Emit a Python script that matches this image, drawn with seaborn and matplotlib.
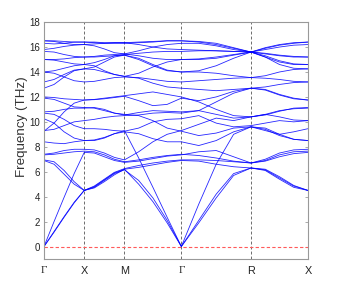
import numpy as np
import pandas as pd
import matplotlib
matplotlib.use("Agg")
import matplotlib.pyplot as plt
import seaborn as sns

# High-symmetry path
kpoint_labels = ["\u0393", "X", "M", "\u0393", "R", "X"]
segment_lengths = [0.5, 0.5, 0.7071, 0.866, 0.7071]
samples_per_segment = 4  # values listed per segment (excluding end)

# Band frequencies (THz) read at Γ, 3 interior points, X, ..., end X
b01 = [0, 1.2, 2.4, 3.55, 4.5, 4.75, 5.3, 5.85, 6.15, 5.3, 3.9, 2.1, 0, 2.1, 4.2, 5.85, 6.3, 6.2, 5.6, 4.9, 4.5]
b02 = [0, 1.15, 2.35, 3.5, 4.5, 4.7, 5.2, 5.75, 6.2, 5.0, 3.6, 1.9, 0, 1.9, 3.9, 5.7, 6.3, 6.1, 5.4, 4.75, 4.5]
b03 = [0, 2.0, 3.95, 5.85, 7.55, 7.5, 7.2, 6.9, 6.75, 6.85, 7.05, 7.25, 7.35, 7.6, 7.7, 7.2, 6.7, 6.9, 7.35, 7.6, 7.65]
b04 = [6.9, 6.6, 5.8, 5.0, 4.5, 4.8, 5.35, 5.9, 6.2, 6.35, 6.55, 6.75, 6.9, 6.85, 6.6, 6.4, 6.3, 6.15, 5.5, 4.85, 4.5]
b05 = [6.95, 6.8, 6.1, 5.2, 4.5, 4.85, 5.4, 5.95, 6.25, 6.5, 6.7, 6.85, 6.95, 6.95, 6.9, 6.8, 6.7, 6.85, 7.2, 7.45, 7.55]
b06 = [7.35, 7.4, 7.5, 7.6, 7.65, 7.6, 7.35, 7.0, 6.8, 6.95, 7.15, 7.3, 7.4, 7.3, 7.1, 6.85, 6.7, 7.0, 7.5, 7.75, 7.8]
b07 = [7.4, 7.5, 7.7, 7.8, 7.8, 7.75, 7.5, 7.15, 6.95, 7.6, 8.4, 9.0, 9.3, 9.8, 10.3, 10.1, 10.4, 10.6, 10.4, 10.15, 10.1]
b08 = [8.4, 8.3, 8.25, 8.4, 8.5, 8.55, 8.75, 9.05, 9.2, 9.05, 8.65, 8.4, 8.4, 8.1, 8.5, 9.2, 9.6, 9.4, 8.9, 8.6, 8.5]
b09 = [9.25, 9.9, 10.8, 11.5, 11.75, 11.78, 11.85, 11.95, 12.05, 11.7, 11.3, 11.4, 11.9, 11.7, 12.0, 12.45, 12.7, 12.55, 12.15, 11.85, 11.75]
b10 = [9.3, 9.4, 9.7, 10.0, 10.1, 10.2, 10.35, 10.45, 10.5, 10.55, 10.7, 10.75, 10.7, 10.9, 10.6, 10.3, 10.4, 10.6, 10.9, 11.05, 11.1]
b11 = [10.25, 9.9, 9.2, 8.7, 8.5, 8.5, 8.7, 9.05, 9.3, 7.1, 4.75, 2.35, 0, 3.4, 6.6, 9.0, 9.6, 9.5, 9.0, 8.6, 8.5]
b12 = [10.7, 10.6, 10.2, 9.7, 9.45, 9.45, 9.4, 9.3, 9.25, 9.5, 10.0, 10.2, 10.25, 10.5, 9.9, 9.6, 9.7, 9.9, 10.1, 10.0, 10.1]
b13 = [10.8, 10.85, 11.0, 11.1, 11.1, 11.15, 11.0, 10.7, 10.55, 10.75, 10.9, 10.85, 10.8, 10.9, 11.6, 12.3, 12.7, 12.6, 12.2, 11.9, 11.75]
b14 = [11.9, 11.8, 11.5, 11.2, 11.15, 11.1, 10.9, 10.7, 10.6, 10.5, 10.1, 9.5, 9.25, 8.9, 9.1, 9.5, 9.6, 9.3, 9.0, 9.2, 9.45]
b15 = [12.0, 11.95, 11.85, 11.8, 11.75, 11.8, 11.9, 12.0, 12.1, 12.25, 12.4, 12.2, 12.0, 11.6, 11.0, 10.5, 10.4, 10.55, 10.85, 11.1, 11.15]
b16 = [12.7, 13.0, 13.6, 14.1, 14.25, 14.2, 14.0, 13.8, 13.65, 13.5, 13.1, 12.8, 12.7, 12.6, 12.5, 12.6, 12.7, 12.8, 13.0, 13.15, 13.2]
b17 = [13.2, 13.4, 13.8, 14.15, 14.25, 14.4, 14.8, 15.2, 15.35, 15.0, 14.5, 14.1, 14.0, 14.0, 13.9, 13.7, 13.55, 13.7, 14.0, 14.2, 14.25]
b18 = [14.0, 13.9, 13.6, 13.3, 13.2, 13.25, 13.4, 13.55, 13.6, 13.55, 13.4, 13.25, 13.2, 13.3, 13.4, 13.5, 13.55, 13.5, 13.4, 13.25, 13.2]
b19 = [14.0, 14.1, 14.3, 14.5, 14.6, 14.75, 15.0, 15.3, 15.4, 15.5, 15.6, 15.65, 15.65, 15.7, 15.7, 15.65, 15.6, 15.5, 15.35, 15.25, 15.2]
b20 = [15.0, 14.95, 14.8, 14.65, 14.6, 14.5, 14.1, 13.8, 13.65, 13.9, 14.4, 14.8, 15.0, 15.0, 15.1, 15.35, 15.6, 15.3, 14.9, 14.65, 14.6]
b21 = [15.0, 15.0, 15.05, 15.15, 15.2, 15.25, 15.35, 15.4, 15.45, 15.7, 16.0, 16.2, 16.3, 16.3, 16.1, 15.8, 15.6, 15.8, 16.0, 16.15, 16.2]
b22 = [15.65, 15.6, 15.4, 15.25, 15.2, 15.2, 15.25, 15.3, 15.35, 15.1, 14.6, 14.15, 14.0, 14.1, 14.5, 15.1, 15.6, 15.2, 14.6, 14.3, 14.25]
b23 = [15.8, 15.9, 16.05, 16.15, 16.2, 16.1, 15.85, 15.55, 15.45, 15.3, 15.1, 15.0, 15.0, 15.05, 15.2, 15.4, 15.6, 15.2, 14.8, 14.6, 14.6]
b24 = [16.3, 16.25, 16.3, 16.4, 16.4, 16.35, 16.3, 16.3, 16.3, 16.35, 16.4, 16.5, 16.5, 16.45, 16.3, 15.95, 15.6, 15.95, 16.2, 16.35, 16.4]
b25 = [16.5, 16.45, 16.3, 16.2, 16.2, 16.25, 16.3, 16.35, 16.35, 16.4, 16.45, 16.5, 16.5, 16.4, 16.2, 15.9, 15.6, 15.9, 16.15, 16.3, 16.4]
b26 = [16.5, 16.5, 16.45, 16.4, 16.4, 16.4, 16.35, 16.35, 16.35, 16.2, 16.0, 15.85, 15.8, 15.75, 15.7, 15.65, 15.6, 15.45, 15.3, 15.2, 15.2]

bands = [b01, b02, b03, b04, b05, b06, b07, b08, b09, b10, b11, b12, b13,
         b14, b15, b16, b17, b18, b19, b20, b21, b22, b23, b24, b25, b26]

# k positions of sample points
node_k = np.concatenate([[0.0], np.cumsum(segment_lengths)])
k = [node_k[0]]
for a, b in zip(node_k[:-1], node_k[1:]):
    k.extend(np.linspace(a, b, samples_per_segment + 1)[1:])
k = np.array(k)

rows = []
for i, bd in enumerate(bands):
    for kk, f in zip(k, bd):
        rows.append({"k": kk, "freq": f, "band": i})
df = pd.DataFrame(rows)

sns.set_style("white")
plt.rcParams["font.family"] = ["Liberation Sans", "DejaVu Sans"]

fig = plt.figure(figsize=(3.41, 2.91), dpi=100)
ax = fig.add_axes([0.129, 0.110, 0.774, 0.814])

for x in node_k[1:-1]:
    ax.axvline(x, color="#555555", lw=0.6, ls=(0, (3.5, 2.5)), zorder=1)
ax.axhline(0, color="#ff5a5a", lw=0.8, ls=(0, (3.0, 2.0)), zorder=1.5)

sns.lineplot(data=df, x="k", y="freq", units="band", estimator=None,
             color="#0000ff", lw=0.6, alpha=0.85, sort=False, ax=ax,
             legend=False, zorder=2)

ax.set_xlim(node_k[0], node_k[-1])
ax.set_ylim(-1, 18)
ax.set_yticks(range(0, 19, 2))
ax.set_xticks(node_k)
ax.set_xticklabels(kpoint_labels)
for lbl in ax.get_xticklabels():
    if lbl.get_text() == "\u0393":
        lbl.set_fontfamily(["Liberation Serif", "DejaVu Serif"])
ax.set_xlabel("")
ax.set_ylabel("Frequency (THz)", fontsize=9.6, color="#333333")
ax.yaxis.set_label_coords(-0.06, 0.557)
ax.tick_params(axis="both", labelsize=7.0, direction="in", length=2.5,
               width=0.5, colors="#888888", labelcolor="#222222", pad=3,
               right=True, top=False, left=True, bottom=True)
ax.tick_params(axis="x", length=0, pad=5, labelsize=7.8)
for s in ax.spines.values():
    s.set_color("#999999")
    s.set_linewidth(0.8)

fig.savefig("out.png", dpi=100)
